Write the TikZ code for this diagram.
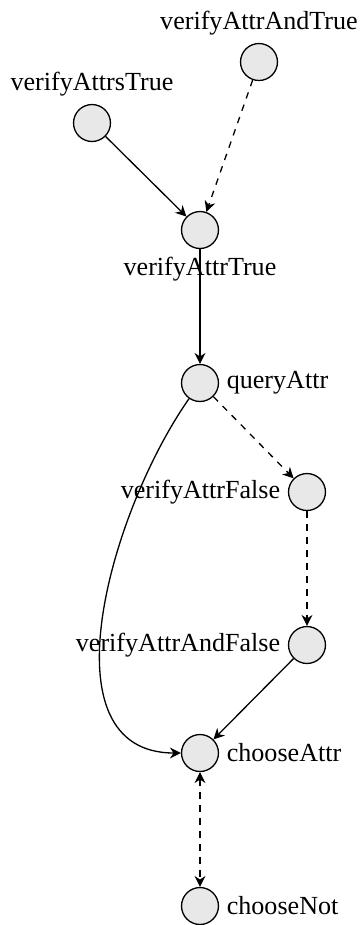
\documentclass[tikz,border=0pt]{standalone}
\usepackage{fontspec}
\setmainfont{Liberation Serif}
\usetikzlibrary{arrows.meta}

\begin{document}
\begin{tikzpicture}[x=0.46pt, y=-0.46pt, font=\fontsize{12}{14}\selectfont]
\tikzset{vertex/.style={circle, draw, fill=black!9, line width=0.6pt, minimum size=17pt, inner sep=0pt}}
\tikzset{link/.style={line width=0.6pt}}
\tikzset{>={Stealth[length=5pt, width=5pt, inset=1.6pt]}}
\useasboundingbox (0,0) rectangle (363,925);
%\draw[red] (0,0) rectangle (363,925);
\node[vertex, label=above:verifyAttrAndTrue] (andTrue) at (259,62) {};
\node[vertex, label=above:verifyAttrsTrue] (attrsTrue) at (92,123) {};
\node[vertex, label=below:verifyAttrTrue] (attrTrue) at (200,230) {};
\node[vertex, label=right:queryAttr] (query) at (200,383) {};
\node[vertex, label=left:verifyAttrFalse] (attrFalse) at (307,492) {};
\node[vertex, label=left:verifyAttrAndFalse] (andFalse) at (307,645) {};
\node[vertex, label=right:chooseAttr] (choose) at (200,753) {};
\node[vertex, label=right:chooseNot] (chooseNot) at (200,906) {};
\draw[link, ->] (attrsTrue) -- (attrTrue);
\draw[link, ->, dashed] (andTrue) -- (attrTrue);
\draw[link, ->] (attrTrue) -- (query);
\draw[link, ->, dashed] (query) -- (attrFalse);
\draw[link, ->, dashed] (attrFalse) -- (andFalse);
\draw[link, ->] (andFalse) -- (choose);
\draw[link, ->] (query) to[out=235, in=180] (choose);
\draw[link, <->, dashed] (choose) -- (chooseNot);
\end{tikzpicture}
\end{document}
